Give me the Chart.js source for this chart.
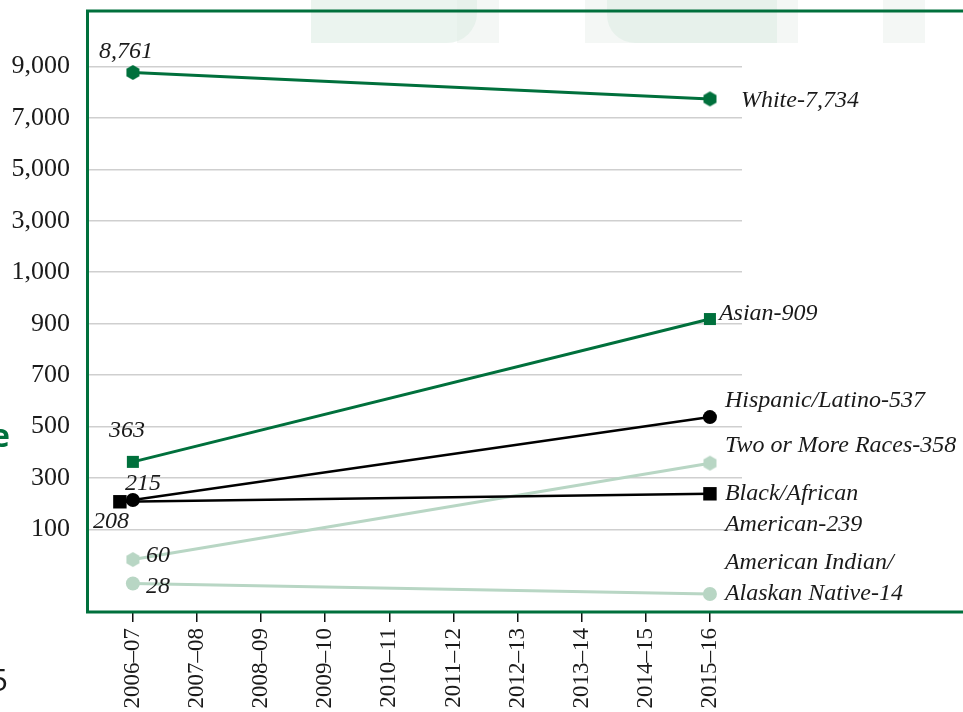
<!DOCTYPE html>
<html><head><meta charset="utf-8">
<script src="https://cdn.jsdelivr.net/npm/chart.js@4.4.1/dist/chart.umd.min.js"></script>
<style>html,body{margin:0;padding:0;background:#fff;overflow:hidden}canvas{display:block}</style>
</head><body><canvas id="c" width="963" height="712"></canvas>
<script>
// ---------------- data ----------------
const YEARS = ['2006–07','2007–08','2008–09','2009–10','2010–11','2011–12','2012–13','2013–14','2014–15','2015–16'];
const YEAR_START = '2006–07';
const YEAR_END = '2015–16';
const Y_TICKS = [100, 300, 500, 700, 900, 1000, 3000, 5000, 7000, 9000];
const SERIES = ['White', 'Asian', 'Hispanic/Latino', 'Two or More Races', 'Black/African American', 'American Indian/Alaskan Native'];
const WHITE = [8761, 7734];
const ASIAN = [363, 909];
const HISPANIC = [215, 537];
const TWO_OR_MORE = [60, 358];
const BLACK = [208, 239];
const AMERICAN_INDIAN = [28, 14];

// ---------------- style ----------------
const GREEN = '#00703c';
const LIGHT = '#b8d6c4';
const BLACKC = '#000000';
const TEXT = '#1a1a1a';
const SERIF = '"Liberation Serif", "Times New Roman", serif';

// piecewise (broken) value axis: each labelled tick takes one equal step
const ZERO_POS = -1.456;
function posOf(v) {
  const t = Y_TICKS;
  if (v < t[0]) return ZERO_POS + v * (0 - ZERO_POS) / t[0];
  for (let i = 0; i < t.length - 1; i++) {
    if (v <= t[i + 1]) return i + (v - t[i]) / (t[i + 1] - t[i]);
  }
  const n = t.length;
  return (n - 1) + (v - t[n - 1]) / (t[n - 1] - t[n - 2]);
}
function valueOf(p) {
  const t = Y_TICKS;
  if (p < 0) return (p - ZERO_POS) * t[0] / (0 - ZERO_POS);
  const n = t.length;
  if (p >= n - 1) return t[n - 1] + (p - (n - 1)) * (t[n - 1] - t[n - 2]);
  const i = Math.floor(p);
  return t[i] + (p - i) * (t[i + 1] - t[i]);
}
class PiecewiseScale extends Chart.LinearScale {
  buildTicks() { return Y_TICKS.map(v => ({ value: v })); }
  getPixelForValue(value) {
    if (value === null || value === undefined || isNaN(value)) return NaN;
    const p0 = posOf(this.min), p1 = posOf(this.max);
    return this.getPixelForDecimal((posOf(value) - p0) / (p1 - p0));
  }
  getValueForPixel(pixel) {
    const p0 = posOf(this.min), p1 = posOf(this.max);
    return valueOf(p0 + this.getDecimalForPixel(pixel) * (p1 - p0));
  }
}
PiecewiseScale.id = 'piecewise';
PiecewiseScale.defaults = Chart.LinearScale.defaults;
Chart.register(PiecewiseScale);

function hexagon(color, r) {
  const c = document.createElement('canvas');
  const w = Math.ceil(2 * r * Math.cos(Math.PI / 6)) + 2, h = Math.ceil(2 * r) + 2;
  c.width = w; c.height = h;
  const g = c.getContext('2d');
  g.fillStyle = color; g.beginPath();
  for (let k = 0; k < 6; k++) {
    const a = Math.PI / 2 + k * Math.PI / 3;
    const x = w / 2 + r * Math.cos(a), y = h / 2 + r * Math.sin(a);
    k ? g.lineTo(x, y) : g.moveTo(x, y);
  }
  g.closePath(); g.fill();
  return c;
}

const i0 = YEARS.indexOf(YEAR_START), i1 = YEARS.indexOf(YEAR_END);
const pts = arr => [{ x: i0, y: arr[0] }, { x: i1, y: arr[1] }];

const datasets = [
  { label: SERIES[0], data: pts(WHITE), borderColor: GREEN, borderWidth: 3, pointStyle: hexagon(GREEN, 7.5), pointRadius: 7, order: 6 },
  { label: SERIES[1], data: pts(ASIAN), borderColor: GREEN, borderWidth: 3, pointStyle: 'rect', pointRadius: 8.5, pointBackgroundColor: GREEN, order: 5 },
  { label: SERIES[2], data: pts(HISPANIC), borderColor: BLACKC, borderWidth: 2.5, pointStyle: 'circle', pointRadius: 7, pointBackgroundColor: BLACKC, order: 1 },
  { label: SERIES[3], data: pts(TWO_OR_MORE), borderColor: LIGHT, borderWidth: 3, pointStyle: hexagon(LIGHT, 7.5), pointRadius: 7, order: 4 },
  { label: SERIES[4], data: pts(BLACK), borderColor: BLACKC, borderWidth: 2.5, pointStyle: 'rect', pointRadius: 9.5, pointBackgroundColor: BLACKC, order: 2 },
  { label: SERIES[5], data: pts(AMERICAN_INDIAN), borderColor: LIGHT, borderWidth: 3, pointStyle: 'circle', pointRadius: 7, pointBackgroundColor: LIGHT, order: 3 }
];
datasets.forEach(d => { d.pointBorderWidth = 0; d.pointBorderColor = d.borderColor; if (!d.pointBackgroundColor) d.pointBackgroundColor = d.borderColor; d.tension = 0; });

// label text lines at the right end
const END_LINES = [
  ['White-' + WHITE[1].toLocaleString('en-US')],
  ['Asian-' + ASIAN[1].toLocaleString('en-US')],
  ['Hispanic/Latino-' + HISPANIC[1].toLocaleString('en-US')],
  ['Two or More Races-' + TWO_OR_MORE[1].toLocaleString('en-US')],
  ['Black/African', 'American-' + BLACK[1].toLocaleString('en-US')],
  ['American Indian/', 'Alaskan Native-' + AMERICAN_INDIAN[1].toLocaleString('en-US')]
];
const START_OFF = [
  { dx: -7, dy: -21, align: 'center' },
  { dx: -6, dy: -31, align: 'center' },
  { dx: 10, dy: -16, align: 'center' },
  { dx: 13, dy: -4, align: 'left' },
  { dx: -9, dy: 20, align: 'center' },
  { dx: 13, dy: 3, align: 'left' }
];
const END_OFF = [
  { dx: 31, dy: 2 }, { dx: 9, dy: -5 }, { dx: 15, dy: -16 },
  { dx: 15, dy: -17 }, { dx: 15, dy: 0 }, { dx: 15, dy: -31 }
];
const SHIFT_START = [0, 0, 0, 0, -13, 0];

const decor = {
  id: 'decor',
  beforeDraw(chart) {
    const ctx = chart.ctx;
    ctx.save();
    ctx.fillStyle = '#fff'; ctx.fillRect(0, 0, chart.width, chart.height);
    ctx.fillStyle = '#f4f7f5';
    ctx.fillRect(457, 0, 42, 43); ctx.fillRect(585, 0, 213, 43); ctx.fillRect(883, 0, 42, 43);
    ctx.fillStyle = 'rgba(222,236,228,0.6)';
    ctx.beginPath(); ctx.roundRect(311, 0, 166, 43, [0, 0, 30, 0]); ctx.fill();
    ctx.beginPath(); ctx.roundRect(607, 0, 170, 43, [0, 0, 0, 28]); ctx.fill();
    ctx.restore();
  },
  afterDatasetsUpdate(chart) {
    chart.data.datasets.forEach((d, i) => {
      if (SHIFT_START[i]) { const p = chart.getDatasetMeta(i).data[0]; if (p) p.x += SHIFT_START[i]; }
    });
  },
  afterDraw(chart) {
    const ctx = chart.ctx, a = chart.chartArea;
    ctx.save();
    // frame
    ctx.strokeStyle = GREEN; ctx.lineWidth = 3;
    ctx.beginPath();
    ctx.moveTo(chart.width, a.top); ctx.lineTo(a.left - 0.5, a.top); ctx.lineTo(a.left - 0.5, a.bottom); ctx.lineTo(chart.width, a.bottom);
    ctx.stroke();
    // labels
    ctx.fillStyle = TEXT; ctx.font = 'italic 24px ' + SERIF; ctx.textBaseline = 'middle';
    chart.data.datasets.forEach((d, i) => {
      const meta = chart.getDatasetMeta(i);
      const p0 = meta.data[0], p1 = meta.data[1];
      const s = START_OFF[i];
      ctx.textAlign = s.align;
      ctx.fillText(d.data[0].y.toLocaleString('en-US'), p0.x + s.dx, p0.y + s.dy);
      const e = END_OFF[i];
      ctx.textAlign = 'left';
      END_LINES[i].forEach((t, k) => ctx.fillText(t, p1.x + e.dx, p1.y + e.dy + k * 31));
    });
    // page fragments
    ctx.textAlign = 'right'; ctx.textBaseline = 'alphabetic';
    ctx.fillStyle = GREEN; ctx.font = 'bold 32px "Open Sans", sans-serif';
    ctx.fillText('e', 10, 447);
    ctx.fillStyle = TEXT; ctx.font = '31px "Open Sans", sans-serif';
    ctx.fillText('5', 8, 691);
    ctx.restore();
  }
};

new Chart(document.getElementById('c'), {
  type: 'line',
  data: { datasets },
  options: {
    responsive: false, animation: false, events: [],
    layout: { padding: { top: 11, right: 221, left: 0, bottom: 0 } },
    plugins: { legend: { display: false }, tooltip: { enabled: false } },
    scales: {
      x: {
        type: 'linear', min: -0.7, max: 9.5,
        afterBuildTicks: s => { s.ticks = YEARS.map((_, i) => ({ value: i })); },
        afterFit: s => { s.height = 100; s.paddingLeft = 0; s.paddingRight = 0; },
        border: { display: false },
        grid: { drawOnChartArea: false, drawTicks: true, tickLength: 10, color: '#111', lineWidth: 1.5 },
        ticks: { autoSkip: false, minRotation: 90, maxRotation: 90, padding: 6, color: TEXT,
          font: { family: SERIF, size: 23 }, callback: v => YEARS[v] }
      },
      y: {
        type: 'piecewise', min: -10, max: 11150,
        afterFit: s => { s.width = 88; s.paddingTop = 0; s.paddingBottom = 0; },
        border: { display: false },
        grid: { drawTicks: false, color: '#cfcfcf', lineWidth: 1.5 },
        ticks: { autoSkip: false, padding: 18, color: TEXT, font: { family: SERIF, size: 26 },
          callback: v => v.toLocaleString('en-US') }
      }
    }
  },
  plugins: [decor]
});
</script></body></html>
